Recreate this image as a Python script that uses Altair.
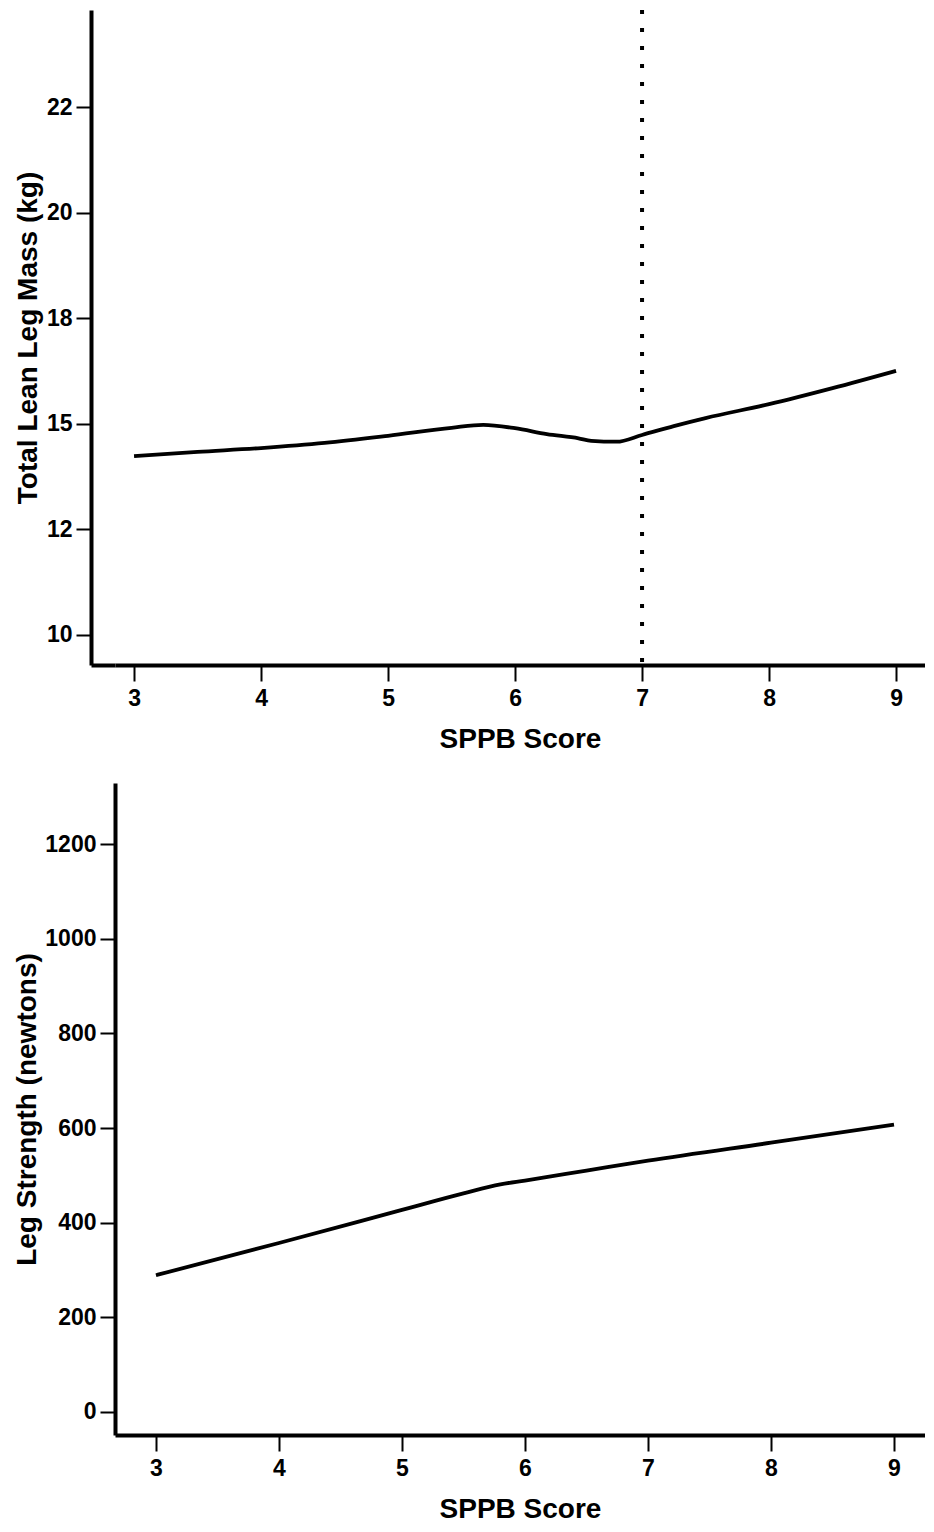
import altair as alt
import pandas as pd

# ---- data ----
sppb_top = [3, 3.5, 4, 4.5, 5, 5.5, 5.75, 6, 6.25, 6.5, 6.6, 6.8, 7, 7.25, 7.5, 8, 8.5, 9]
lean_mass = [14.24, 14.34, 14.43, 14.55, 14.72, 14.91, 14.98, 14.9, 14.76, 14.66, 14.6, 14.58,
             14.74, 14.95, 15.14, 15.47, 15.85, 16.26]

sppb_bot = [3, 4, 5, 5.5, 5.8, 6, 6.5, 7, 8, 9]
strength = [289, 357, 427, 462, 481, 489, 510, 531, 569, 607]

cutoff = [7]

x_ticks = [3, 4, 5, 6, 7, 8, 9]
top_y_ticks = [10, 12.5, 15, 17.5, 20, 22.5]
top_y_labels = ["10", "12", "15", "18", "20", "22"]
bot_y_ticks = [0, 200, 400, 600, 800, 1000, 1200]

top_x_domain = [2.850, 9.228]
top_y_domain = [9.289, 24.81]
bot_x_domain = [2.667, 9.252]
bot_y_domain = [-48.6, 1329]

label_expr = ""
for v, l in zip(top_y_ticks, top_y_labels):
    label_expr += f"datum.value == {v} ? '{l}' : "
label_expr += "datum.label"

df_top = pd.DataFrame({"sppb": sppb_top, "mass": lean_mass})
df_bot = pd.DataFrame({"sppb": sppb_bot, "strength": strength})
df_cut = pd.DataFrame({"sppb": cutoff, "lo": [top_y_domain[0]], "hi": [top_y_domain[1]]})

x_top = alt.X("sppb:Q", title="SPPB Score",
              scale=alt.Scale(domain=top_x_domain, nice=False, zero=False),
              axis=alt.Axis(values=x_ticks, format="d"))

line_top = alt.Chart(df_top).mark_line(color="black", strokeWidth=3.8, interpolate="monotone").encode(
    x=x_top,
    y=alt.Y("mass:Q", title="Total Lean Leg Mass (kg)",
            scale=alt.Scale(domain=top_y_domain, nice=False, zero=False),
            axis=alt.Axis(values=top_y_ticks, labelExpr=label_expr, offset=24, titlePadding=4)),
)
# dotted cut-off line at SPPB = 7; its (unlabelled) axis closes the corner of the offset y axis
rule = alt.Chart(df_cut).mark_rule(color="black", strokeWidth=4, strokeDash=[4, 14]).encode(
    x=alt.X("sppb:Q"),
    y=alt.Y("hi:Q", scale=alt.Scale(domain=top_y_domain, nice=False, zero=False),
            axis=alt.Axis(orient="left", values=[top_y_domain[0]], tickSize=24, tickWidth=4,
                          domain=False, labels=False, title=None)),
    y2=alt.Y2("lo:Q"),
)
top = alt.layer(line_top, rule).resolve_scale(y="independent").resolve_axis(y="independent").properties(
    width=810, height=655
)

bottom = alt.Chart(df_bot).mark_line(color="black", strokeWidth=3.8, interpolate="monotone").encode(
    x=alt.X("sppb:Q", title="SPPB Score",
            scale=alt.Scale(domain=bot_x_domain, nice=False, zero=False),
            axis=alt.Axis(values=x_ticks, format="d")),
    y=alt.Y("strength:Q", title="Leg Strength (newtons)",
            scale=alt.Scale(domain=bot_y_domain, nice=False, zero=False),
            axis=alt.Axis(values=bot_y_ticks, format="d", titlePadding=3)),
).properties(width=810, height=652)

chart = alt.vconcat(top, bottom, spacing=30).properties(
    padding={"left": 5, "top": 0, "right": 0, "bottom": 0}
).configure_view(stroke=None).configure_axis(
    grid=False,
    domainColor="black",
    domainWidth=4,
    tickColor="black",
    tickWidth=2,
    labelFont="Liberation Sans",
    labelFontWeight="bold",
    labelFontSize=23,
    labelColor="black",
    titleFont="Liberation Sans",
    titleFontWeight="bold",
    titleFontSize=28,
    titleColor="black",
).configure_axisX(tickSize=16, labelPadding=6, titlePadding=15).configure_axisY(
    tickSize=15, labelPadding=4
)

chart.save("out.html", embed_options={"renderer": "svg", "actions": False})
